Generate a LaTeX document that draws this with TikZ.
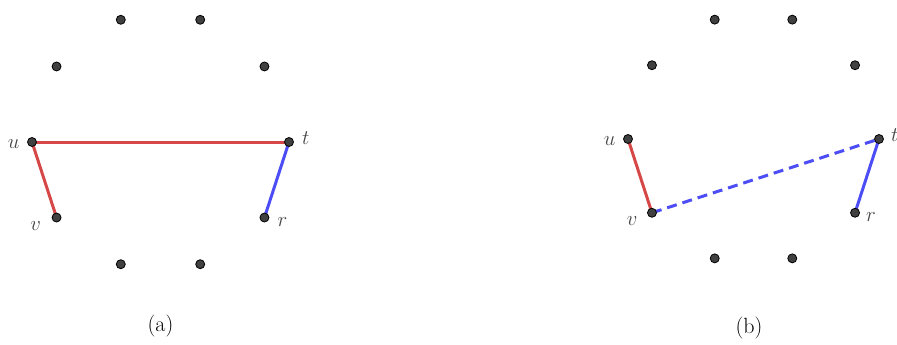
\documentclass[tikz,border=0pt]{standalone}
\usepackage{tikz}
\usetikzlibrary{positioning,calc}
\definecolor{edgered}{RGB}{214,72,72}
\definecolor{edgeblue}{RGB}{77,77,245}
\definecolor{dotgray}{RGB}{64,64,64}
\definecolor{labelgray}{RGB}{70,70,70}

\begin{document}
\begin{tikzpicture}[x=1pt, y=-1pt,
  dot/.style={circle, fill=dotgray, draw=black, line width=0.8pt, inner sep=0pt, minimum size=9pt},
  lab/.style={font=\fontsize{22}{26}\selectfont, text=labelgray, inner sep=1pt},
  captext/.style={font=\fontsize{22}{26}\selectfont},
  redge/.style={edgered, line width=3pt},
  bedge/.style={edgeblue, line width=3pt}]

\useasboundingbox (0,0) rectangle (897,345);

% === Panel (a) ===
\begin{scope}[shift={(160.5,142)}]
\foreach \i in {0,...,9}
  \coordinate (a\i) at (\i*36:128.5pt);

% Edges
\draw[redge] (a5) -- (a0);
\draw[redge] (a5) -- (a6);
\draw[bedge] (a0) -- (a9);

% Points
\foreach \i in {0,...,9}
  \node[dot] (pa\i) at (a\i) {};

% Labels
\node[lab, left=6.5pt of pa5, yshift=-2pt] (ua) {$u$};
\node[lab, right=7pt of pa0, yshift=4pt] (ta) {$t$};
\node[lab, left=9.5pt of pa6, yshift=-9pt] (va) {$v$};
\node[lab, right=7pt of pa9, yshift=-5pt] (ra) {$r$};
\end{scope}
\node[captext] (capa) at (160.5,326) {(a)};

% === Panel (b) ===
\begin{scope}[shift={(753.5,139)}]
\foreach \i in {0,...,9}
  \coordinate (b\i) at (\i*36:125.5pt);

% Edges
\draw[redge] (b5) -- (b6);
\draw[bedge, dash pattern=on 10pt off 6pt] (b6) -- (b0);
\draw[bedge] (b0) -- (b9);

% Points
\foreach \i in {0,...,9}
  \node[dot] (pb\i) at (b\i) {};

% Labels
\node[lab, left=6.5pt of pb5, yshift=-2pt] (ub) {$u$};
\node[lab, right=6pt of pb0, yshift=4pt] (tb) {$t$};
\node[lab, left=8.5pt of pb6, yshift=-8pt] (vb) {$v$};
\node[lab, right=5pt of pb9, yshift=-4pt] (rb) {$r$};
\end{scope}
\node[captext] (capb) at (749,328) {(b)};

\end{tikzpicture}
\end{document}
